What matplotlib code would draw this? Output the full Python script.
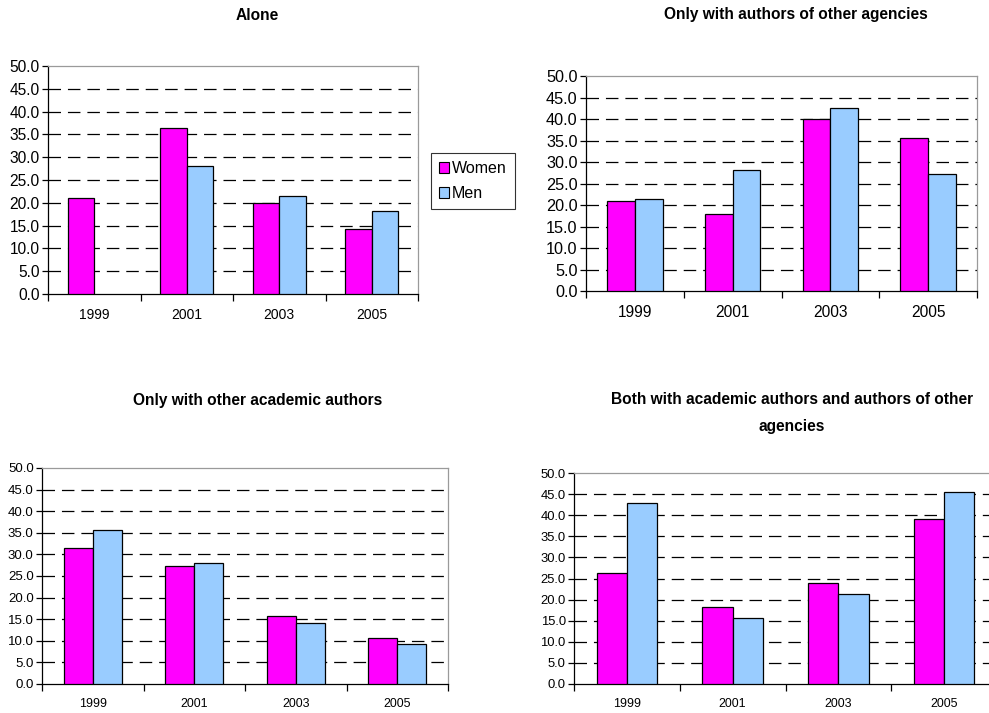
import numpy as np
import matplotlib
matplotlib.use("Agg")
import matplotlib.pyplot as plt
from matplotlib.patches import Patch

plt.rcParams["font.family"] = ["Liberation Sans", "DejaVu Sans"]
plt.rcParams["lines.scale_dashes"] = False

years = ["1999", "2001", "2003", "2005"]
series_names = ["Women", "Men"]

alone_women = [21.0, 36.3, 20.0, 14.2]
alone_men = [np.nan, 28.1, 21.4, 18.1]

agencies_women = [20.9, 18.0, 39.9, 35.6]
agencies_men = [21.4, 28.1, 42.6, 27.2]

academic_women = [31.5, 27.4, 15.8, 10.6]
academic_men = [35.6, 28.1, 14.2, 9.2]

both_women = [26.3, 18.3, 24.0, 39.2]
both_men = [42.8, 15.7, 21.4, 45.4]

titles = [
    "Alone",
    "Only with authors of other agencies",
    "Only with other academic authors",
    "Both with academic authors and authors of other\nagencies",
]

women_color = "#FF00FF"
men_color = "#99CCFF"

W, H = 989, 713
fig = plt.figure(figsize=(W / 100, H / 100), dpi=100)


def px_axes(x0, y0, x1, y1):
    return fig.add_axes([x0 / W, 1 - y1 / H, (x1 - x0) / W, (y1 - y0) / H])


def draw_panel(ax, women, men, xfs, yfs):
    x = np.arange(len(years))
    bw = 0.285
    ax.bar(x - bw / 2, women, bw, color=women_color, edgecolor="black",
           linewidth=0.9, zorder=3)
    ax.bar(x + bw / 2, men, bw, color=men_color, edgecolor="black",
           linewidth=0.9, zorder=3)
    ax.set_xlim(-0.5, len(years) - 0.5)
    ax.set_ylim(0, 50)
    yt = np.arange(0, 55, 5)
    ax.set_yticks(yt)
    ax.set_yticklabels([f"{v:.1f}" for v in yt], fontsize=yfs)
    for v in yt[1:-1]:
        ax.axhline(v, color="black", linewidth=0.9, linestyle=(0, (9, 5)), zorder=1)
    ax.set_xticks(np.arange(-0.5, len(years) + 0.5, 1.0))
    ax.set_xticklabels([])
    ax.set_xticks(x, minor=True)
    ax.set_xticklabels(years, minor=True, fontsize=xfs)
    ax.tick_params(axis="x", which="major", length=5, width=0.9, direction="out",
                   color="black")
    ax.tick_params(axis="x", which="minor", length=0, pad=10)
    ax.tick_params(axis="y", length=4, width=0.9, direction="out", pad=2,
                   color="black")
    for s in ("left", "bottom"):
        ax.spines[s].set_color("black")
        ax.spines[s].set_linewidth(0.9)
    for s in ("top", "right"):
        ax.spines[s].set_color("#9a9a9a")
        ax.spines[s].set_linewidth(0.9)


ax1 = px_axes(48, 66, 418, 294)
draw_panel(ax1, alone_women, alone_men, 10, 11.2)
ax2 = px_axes(586, 76, 977, 291)
draw_panel(ax2, agencies_women, agencies_men, 11.2, 11.7)
ax3 = px_axes(42, 468, 448, 684)
draw_panel(ax3, academic_women, academic_men, 8.9, 9.5)
ax4 = px_axes(574, 473, 997, 684)
draw_panel(ax4, both_women, both_men, 8.9, 9.4)

title_pos = [(257, 16), (796, 15), (258, 401), (792, 413)]
for (tx, ty), t in zip(title_pos, titles):
    fig.text(tx / W, 1 - ty / H, t, ha="center", va="center", fontsize=11.2,
             fontweight="bold", linespacing=1.95)

handles = [Patch(facecolor=women_color, edgecolor="black", linewidth=0.8),
           Patch(facecolor=men_color, edgecolor="black", linewidth=0.8)]
leg = fig.legend(handles, series_names, loc="upper left",
                 bbox_to_anchor=(431 / W, 1 - 153 / H), fontsize=11.5,
                 fancybox=False, frameon=True, edgecolor="black",
                 handlelength=0.65, handleheight=0.65, handletextpad=0.15,
                 borderpad=0.5, borderaxespad=0, labelspacing=0.65)
leg.get_frame().set_linewidth(0.8)

fig.savefig("out.png", dpi=100, facecolor="white")
